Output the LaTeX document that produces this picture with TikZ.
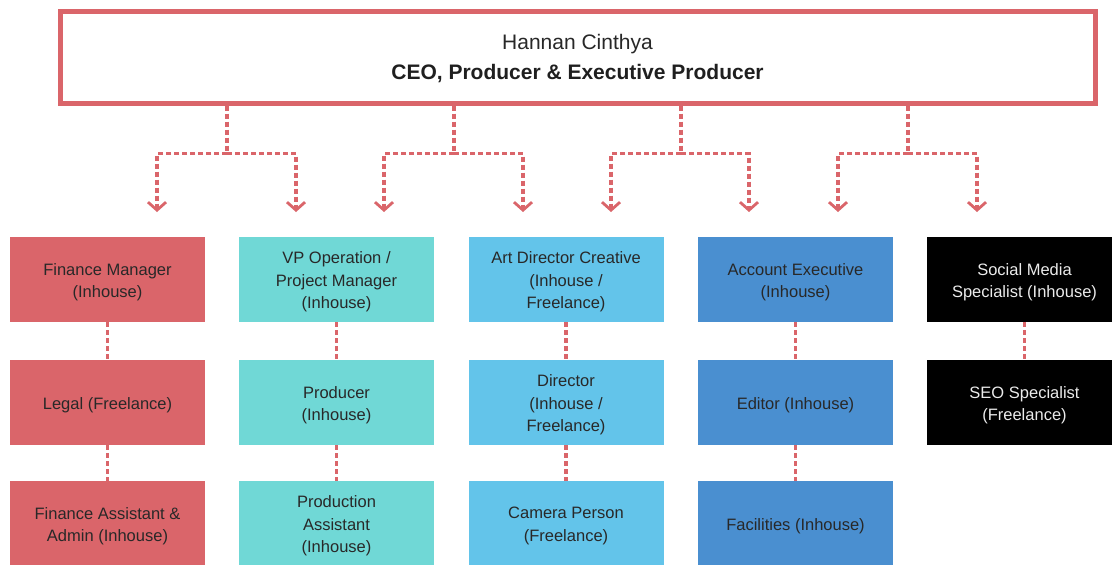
\documentclass[tikz,border=0pt]{standalone}
\usepackage{fontspec}
\setmainfont{Liberation Sans}
\usetikzlibrary{arrows.meta}
\definecolor{cred}{RGB}{218,101,106}
\definecolor{cteal}{RGB}{112,216,214}
\definecolor{clblue}{RGB}{99,196,234}
\definecolor{cblue}{RGB}{74,143,208}
\definecolor{ctext}{RGB}{40,40,40}
\tikzset{
  roleboxbase/.style={rectangle, inner sep=0pt, minimum width=195pt, minimum height=85pt},
  roletext/.style={align=center, font=\fontsize{16.5}{22.5}\selectfont, text=ctext, yshift=-2.5pt, inner sep=0pt},
  redbox/.style={roleboxbase, fill=cred},
  tealbox/.style={roleboxbase, fill=cteal},
  lbluebox/.style={roleboxbase, fill=clblue},
  bluebox/.style={roleboxbase, fill=cblue},
  blackbox/.style={roleboxbase, fill=black},
  conn/.style={draw=cred, line width=3.2pt, dash pattern=on 5pt off 3pt},
  arr/.style={conn, -{Straight Barb[length=8pt,width=18pt,line width=2.8pt]}},
}
\newcommand{\rolenode}[5][ctext]{\node[#2, label={[roletext, text=#1]center:{#5}}] (#3) at (#4) {};}
\begin{document}
\begin{tikzpicture}[x=1pt,y=-1pt]
\useasboundingbox (0,0) rectangle (1112,565);
\fill[white] (0,0) rectangle (1112,565);

% top node
\node[draw=cred, line width=5pt, rectangle, inner sep=0pt, minimum width=1035pt, minimum height=92pt] (ceo) at (577.5,57) {};
\node[align=center, text=ctext, font=\fontsize{21}{30}\selectfont, inner sep=0pt, yshift=-2pt] (ceotext) at (ceo.center)
  {Hannan Cinthya\\{\bfseries\color{black!88}CEO, Producer \& Executive Producer}};

% boxes
\rolenode{redbox}{a1}{107.5,279.5}{Finance Manager\\(Inhouse)}
\rolenode{redbox}{a2}{107.5,402.5}{Legal (Freelance)}
\rolenode{redbox}{a3}{107.5,523.5}{Finance Assistant \&\\Admin (Inhouse)}

\rolenode{tealbox}{b1}{336.5,279.5}{VP Operation /\\Project Manager\\(Inhouse)}
\rolenode{tealbox}{b2}{336.5,402.5}{Producer\\(Inhouse)}
\rolenode{tealbox}{b3}{336.5,523.5}{Production\\Assistant\\(Inhouse)}

\rolenode{lbluebox}{c1}{566,279.5}{Art Director Creative\\(Inhouse /\\Freelance)}
\rolenode{lbluebox}{c2}{566,402.5}{Director\\(Inhouse /\\Freelance)}
\rolenode{lbluebox}{c3}{566,523.5}{Camera Person\\(Freelance)}

\rolenode{bluebox}{d1}{795.5,279.5}{Account Executive\\(Inhouse)}
\rolenode{bluebox}{d2}{795.5,402.5}{Editor (Inhouse)}
\rolenode{bluebox}{d3}{795.5,523.5}{Facilities (Inhouse)}

\rolenode[white!92!black]{blackbox}{e1}{1024.5,279.5}{Social Media\\Specialist (Inhouse)}
\rolenode[white!92!black]{blackbox}{e2}{1024.5,402.5}{SEO Specialist\\(Freelance)}

% vertical dotted links
\foreach \u/\v in {a1/a2,a2/a3,b1/b2,b2/b3,c1/c2,c2/c3,d1/d2,d2/d3,e1/e2}
  \draw[conn] (\u.south) -- (\v.north);

% junctions and arrow tips
\coordinate (j1) at (227,153.5);
\coordinate (j2) at (454,153.5);
\coordinate (j3) at (681,153.5);
\coordinate (j4) at (908,153.5);
\coordinate (t1) at (157,212);
\coordinate (t2) at (296,212);
\coordinate (t3) at (384,212);
\coordinate (t4) at (523,212);
\coordinate (t5) at (611,212);
\coordinate (t6) at (749,212);
\coordinate (t7) at (838,212);
\coordinate (t8) at (977,212);

\foreach \j/\l/\r in {j1/t1/t2, j2/t3/t4, j3/t5/t6, j4/t7/t8}{
  \draw[conn] (ceo.south -| \j) -- (\j);
  \draw[arr] (\j) -| (\l);
  \draw[arr] (\j) -| (\r);
}
\end{tikzpicture}
\end{document}
